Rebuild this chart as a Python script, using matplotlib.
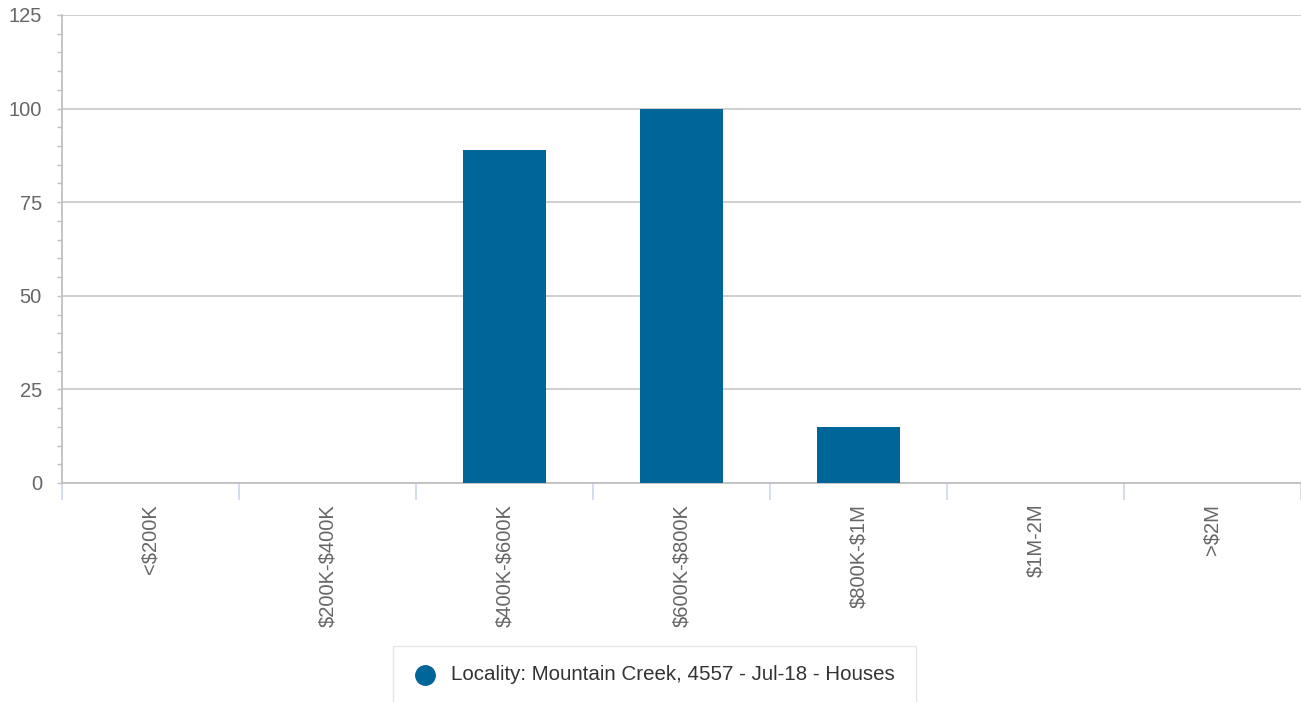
import matplotlib
matplotlib.use("Agg")
import matplotlib.pyplot as plt
from matplotlib.lines import Line2D
from matplotlib.patches import Rectangle
from matplotlib.ticker import MultipleLocator

plt.rcParams['font.family'] = ['Liberation Sans', 'DejaVu Sans']
plt.rcParams['text.parse_math'] = False

categories = ['<$200K', '$200K-$400K', '$400K-$600K', '$600K-$800K', '$800K-$1M', '$1M-2M', '>$2M']
values = [0, 0, 89, 100, 15, 0, 0]
yticks = [0, 25, 50, 75, 100, 125]
series_name = 'Locality: Mountain Creek, 4557 - Jul-18 - Houses'
bar_color = '#006699'

W, H = 1301, 702
fig = plt.figure(figsize=(W / 100, H / 100), dpi=100)
ax = fig.add_axes([62 / W, 1 - 483 / H, (1301 - 62) / W, (483 - 15) / H])

x = list(range(len(categories)))
ax.bar(x, values, width=0.47, color=bar_color, zorder=3)

ax.set_xlim(-0.5, len(categories) - 0.5)
ax.set_ylim(0, 125)
ax.set_yticks(yticks)
ax.yaxis.set_minor_locator(MultipleLocator(5))
ax.grid(axis='y', color='#cccccc', linewidth=1.3, zorder=0)
ax.tick_params(axis='y', which='major', length=3.6, width=1.0, color='#c0c0c0', labelsize=14.5,
               labelcolor='#666666', pad=10.8)
ax.tick_params(axis='y', which='minor', length=3.6, width=1.0, color='#c0c0c0')

# x category ticks at boundaries
ax.set_xticks([i - 0.5 for i in range(len(categories) + 1)], minor=False)
ax.set_xticklabels([''] * (len(categories) + 1))
ax.set_xticks(x, minor=True)
ax.set_xticklabels(categories, minor=True, rotation=90, fontsize=14.5, color='#666666', va='top', ha='center')
ax.tick_params(axis='x', which='major', length=12.5, color='#ccd6eb', width=1.2)
ax.tick_params(axis='x', which='minor', length=0, pad=15)

for s in ['top', 'right']:
    ax.spines[s].set_visible(False)
ax.spines['left'].set_color('#c0c0c0')
ax.spines['left'].set_linewidth(1.3)
ax.spines['bottom'].set_color('#c0c0c0')
ax.spines['bottom'].set_linewidth(1.3)

# legend (manual, in figure pixel-fraction coordinates)
fig.patches.append(Rectangle((393 / W, 1 - 704 / H), (916 - 393) / W, (704 - 646) / H,
                             transform=fig.transFigure, facecolor='white', edgecolor='#e6e6e6',
                             linewidth=1.0))
fig.lines.append(Line2D([425 / W], [1 - 675 / H], transform=fig.transFigure, marker='o',
                        markersize=14, color=bar_color, linestyle='none'))
fig.text(451 / W, 1 - 675 / H, series_name, fontsize=14.8, color='#333333', va='center', ha='left')

fig.savefig('out.png', dpi=100)
